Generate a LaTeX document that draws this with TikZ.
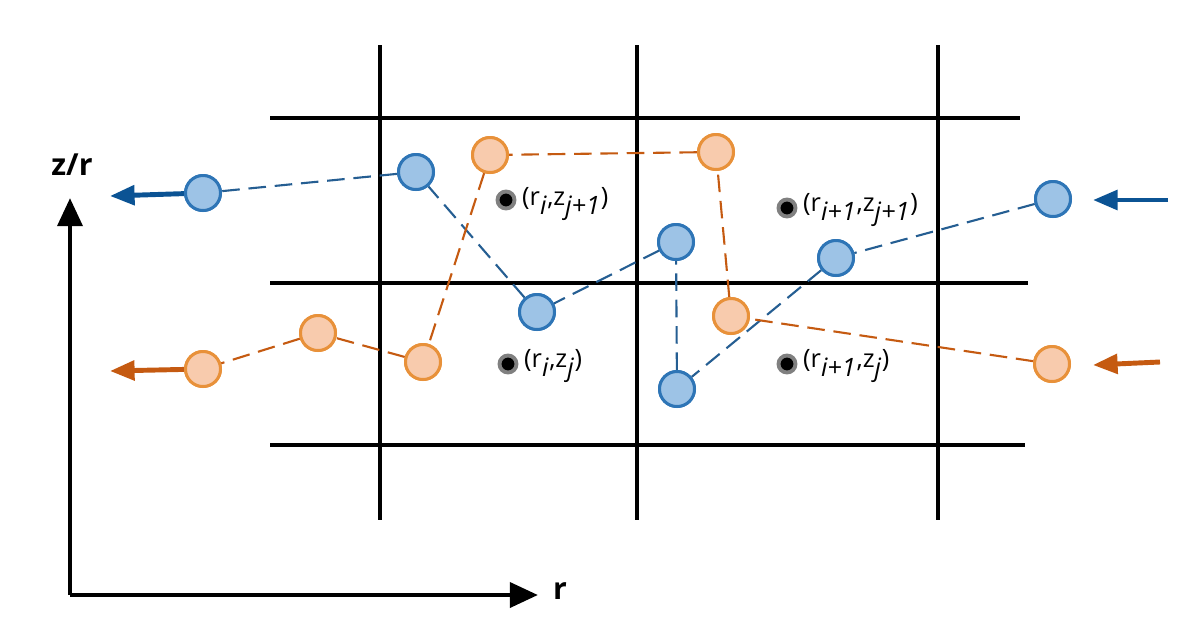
\documentclass[tikz,border=0pt]{standalone}
\usepackage{fontspec}
\setmainfont{Open Sans}
\usetikzlibrary{arrows.meta}
\definecolor{bfill}{HTML}{9DC3E6}\definecolor{bline}{HTML}{2E75B6}\definecolor{barr}{HTML}{0B5394}
\definecolor{ofill}{HTML}{F8CBAD}\definecolor{oline}{HTML}{E8913A}\definecolor{oarr}{HTML}{C55A11}
\begin{document}
\begin{tikzpicture}[x=0.02cm,y=-0.02cm,
 grid/.style={line width=2.5pt,black},
 bp/.style={circle,draw=bline,fill=bfill,line width=1.7pt,minimum size=0.7cm,inner sep=0},
 op/.style={circle,draw=oline,fill=ofill,line width=1.7pt,minimum size=0.7cm,inner sep=0},
 bl/.style={dashed,dash pattern=on 10pt off 5pt,bline!80!black,line width=1.2pt},
 ol/.style={dashed,dash pattern=on 10pt off 5pt,oarr,line width=1.2pt},
 barrow/.style={-{Triangle[length=14pt,width=11pt]},barr,line width=2.8pt},
 oarrow/.style={-{Triangle[length=14pt,width=11pt]},oarr,line width=2.8pt},
 dot/.style={circle,fill=black,draw=gray,line width=2.2pt,minimum size=0.34cm,inner sep=0},
 lab/.style={anchor=west,font=\Large},
 ax/.style={-{Triangle[length=16pt,width=14pt]},line width=2.8pt}]
\useasboundingbox (0,0) rectangle (1200,640);
\foreach \x/\n in {380/a,637/b,938/c} \draw[grid] (\x,45) -- (\x,520);
\draw[grid] (270,118) -- (1020,118);
\draw[grid] (270,283) -- (1028,283);
\draw[grid] (270,445) -- (1025,445);
% blue chain
\node[bp] (b1) at (1053,199) {};
\node[bp] (b2) at (836,258) {};
\node[bp] (b3) at (677,389) {};
\node[bp] (b4) at (676,242) {};
\node[bp] (b5) at (537,312) {};
\node[bp] (b6) at (416,172) {};
\node[bp] (b7) at (203,193) {};
\draw[bl] (b1)--(b2)--(b3)--(b4)--(b5)--(b6)--(b7);
\coordinate (bin0) at (1168,200); \coordinate (bin1) at (1093,200);
\coordinate (bout) at (110,196);
\draw[barrow] (bin0)--(bin1);
\draw[barrow] (b7)--(bout);
% orange chain
\node[op] (o1) at (1052,364) {};
\node[op] (o2) at (731,316) {};
\node[op] (o3) at (716,152) {};
\node[op] (o4) at (490,155) {};
\node[op] (o5) at (423,362) {};
\node[op] (o6) at (318,333) {};
\node[op] (o7) at (203,369) {};
\draw[ol] (o1)--(o2)--(o3)--(o4)--(o5)--(o6)--(o7);
\coordinate (oin0) at (1160,362); \coordinate (oin1) at (1093,365);
\coordinate (oout) at (110,371);
\draw[oarrow] (oin0)--(oin1);
\draw[oarrow] (o7)--(oout);
% redraw nodes above lines
\foreach \p in {{1053,199},{836,258},{677,389},{676,242},{537,312},{416,172},{203,193}} \node[bp] at (\p) {};
\foreach \p in {{1052,364},{731,316},{716,152},{490,155},{423,362},{318,333},{203,369}} \node[op] at (\p) {};
% grid points
\node[dot] (d1) at (506,200) {}; \node[lab] at (516,204) {(r$_{\textit{i}}$,z$_{\textit{j+1}}$)};
\node[dot] (d2) at (787,208) {}; \node[lab] at (797,210) {(r$_{\textit{i+1}}$,z$_{\textit{j+1}}$)};
\node[dot] (d3) at (508,364) {}; \node[lab] at (518,366) {(r$_{\textit{i}}$,z$_{\textit{j}}$)};
\node[dot] (d4) at (787,364) {}; \node[lab] at (797,366) {(r$_{\textit{i+1}}$,z$_{\textit{j}}$)};
% axes
\coordinate (O) at (70,595); \coordinate (Y) at (70,198); \coordinate (X) at (538,595);
\draw[ax] (O) -- (Y);
\draw[ax] (O) -- (X);
\node[font=\bfseries\LARGE] (zl) at (72,165) {z/r};
\node[font=\bfseries\LARGE] (rl) at (560,591) {r};
\end{tikzpicture}
\end{document}
